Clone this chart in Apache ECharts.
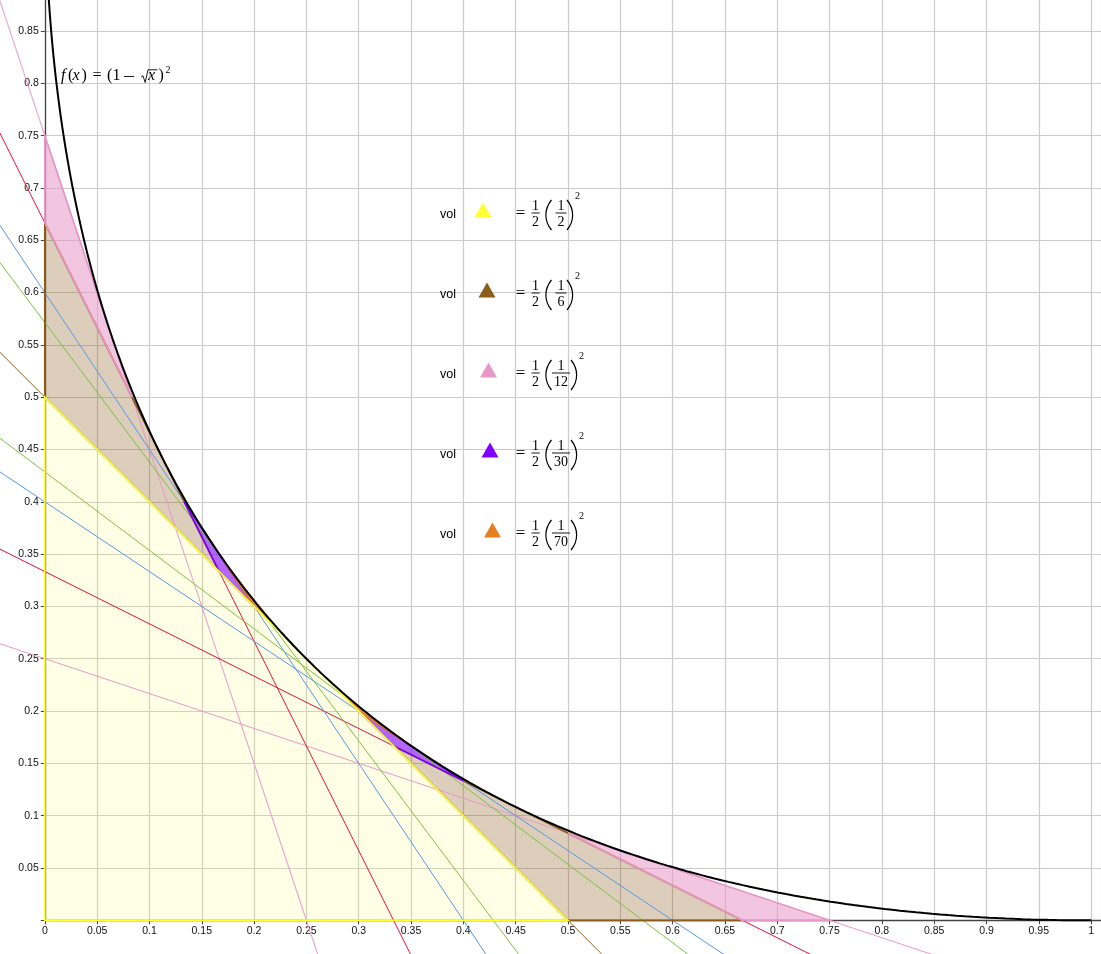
<!DOCTYPE html>
<html>
<head>
<meta charset="utf-8">
<script src="https://cdn.jsdelivr.net/npm/echarts@6/dist/echarts.min.js"></script>
<style>
  html, body { margin: 0; padding: 0; background: #fff; }
  #main { width: 1101px; height: 954px; }
</style>
</head>
<body>
<div id="main"></div>
<script>
// tangent lines to f(x) = (1 - sqrt(x))^2, given by their intercepts
const lineXInt = [1/4, 3/4, 1/3, 2/3, 2/5, 3/5, 3/7, 4/7, 1/2];
const lineYInt = [3/4, 1/4, 2/3, 1/3, 3/5, 2/5, 4/7, 3/7, 1/2];
const lineColors = ['#e898c8', '#e898c8', '#dc143c', '#dc143c', '#5599ee', '#5599ee',
                    '#7cc142', '#7cc142', '#8b5e1a'];

// shaded triangles (corners where the tangent lines meet)
const yellowPolys = [[[0, 0], [0, 1/2], [1/2, 0]]];
const brownPolys = [[[0, 1/2], [0, 2/3], [1/6, 1/3]], [[1/3, 1/6], [2/3, 0], [1/2, 0]]];
const pinkPolys = [[[0, 2/3], [0, 3/4], [1/12, 1/2]], [[1/2, 1/12], [3/4, 0], [2/3, 0]]];
const purplePolys = [[[2/15, 2/5], [1/5, 3/10], [1/6, 1/3]], [[3/10, 1/5], [2/5, 2/15], [1/3, 1/6]]];
const orangePolys = [[[6/35, 12/35], [3/14, 2/7], [1/5, 3/10]], [[2/7, 3/14], [12/35, 6/35], [3/10, 1/5]]];

// "vol" rows
const volDen = ['2', '6', '12', '30', '70'];
const volColors = ['#ffff33', '#8b5e1a', '#e898c8', '#7f00ff', '#e67e22'];

// the plotted function f(x) = (1 - sqrt(x))^2, sampled along s = sqrt(x)
const curvePts = [];
for (let i = 0; i <= 240; i++) {
  const s = i / 240;
  curvePts.push([s * s, (1 - s) * (1 - s)]);
}

var myChart = echarts.init(document.getElementById('main'));

function polySeries(polys, color, alpha, z, fillOn, strokeOn) {
  return {
    type: 'custom',
    coordinateSystem: 'cartesian2d',
    data: [[0, 0]],
    z: z,
    silent: true,
    clip: false,
    renderItem: function (params, api) {
      return {
        type: 'group',
        children: polys.map(function (p) {
          return {
            type: 'polygon',
            shape: { points: p.map(function (v) { return api.coord(v); }) },
            style: {
              fill: fillOn ? echarts.color.modifyAlpha(color, alpha) : 'none',
              stroke: strokeOn ? color : 'none',
              lineWidth: 1.7
            }
          };
        })
      };
    }
  };
}

var series = [];
var regions = [
  [yellowPolys, '#ffff33', 0.12],
  [brownPolys, '#8b5e1a', 0.3],
  [pinkPolys, '#e898c8', 0.55],
  [purplePolys, '#7f00ff', 0.6],
  [orangePolys, '#e67e22', 0.75]
];
regions.forEach(function (r) { series.push(polySeries(r[0], r[1], r[2], 2, true, false)); });

// tangent lines run past both axes to the page edges
series.push({
  type: 'custom',
  coordinateSystem: 'cartesian2d',
  data: lineXInt.map(function (a, i) { return [a, lineYInt[i]]; }),
  z: 3,
  silent: true,
  clip: false,
  renderItem: function (params, api) {
    const a = api.value(0), b = api.value(1);
    const p1 = api.coord([-0.06, b * (1 + 0.06 / a)]);
    const p2 = api.coord([a * (1 + 0.06 / b), -0.06]);
    return {
      type: 'line',
      shape: { x1: p1[0], y1: p1[1], x2: p2[0], y2: p2[1] },
      style: { stroke: lineColors[params.dataIndex], lineWidth: 1 }
    };
  }
});
// outlines: yellow last so its edge stays on top
[1, 2, 3, 4, 0].forEach(function (k) {
  const r = regions[k];
  series.push(polySeries(r[0], r[1], r[2], 4, false, true));
});

series.push({
  type: 'line',
  data: curvePts,
  showSymbol: false,
  symbol: 'none',
  silent: true,
  clip: false,
  z: 5,
  lineStyle: { color: '#000', width: 2 }
});

// text pieces of the formulas
var graphic = [];
function glyph(x, y, txt, size, italic, align) {
  graphic.push({
    type: 'text', x: x, y: y, z: 100,
    style: {
      text: txt,
      font: (italic ? 'italic ' : '') + size + 'px "Liberation Serif"',
      fill: '#000',
      textAlign: align || 'left',
      textVerticalAlign: 'middle'
    }
  });
}
function hline(x1, x2, y, w) {
  graphic.push({ type: 'line', z: 100, shape: { x1: x1, y1: y, x2: x2, y2: y },
    style: { stroke: '#000', lineWidth: w || 0.9 } });
}
function paren(x, y0, open) {
  var d = open ? -7.5 : 7.5;
  graphic.push({ type: 'bezierCurve', z: 100,
    shape: { x1: x, y1: y0 - 13, x2: x, y2: y0 + 17,
             cpx1: x + d, cpy1: y0 - 4, cpx2: x + d, cpy2: y0 + 8 },
    style: { stroke: '#000', lineWidth: 1.2, fill: 'none' } });
}

// f(x) label
glyph(61, 75.5, 'f', 16, true);
glyph(68, 75.5, '(', 16);
glyph(72.5, 75.5, 'x', 16, true);
glyph(81.5, 75.5, ')', 16);
glyph(92.5, 75.5, '=', 16);
glyph(107, 75.5, '(', 16);
glyph(112.5, 75.5, '1', 16);
hline(124, 134, 76.5, 0.9);
glyph(148, 75.5, 'x', 16, true);
glyph(158.5, 75.5, ')', 16);
glyph(165.5, 70, '2', 10);
graphic.push({ type: 'polyline', z: 100,
  shape: { points: [[141.2, 77], [143, 75.8], [145.2, 82.5], [148, 69.8], [157.5, 69.8]] },
  style: { stroke: '#000', lineWidth: 0.9, fill: 'none' } });

// vol rows
const triX = [483, 487, 488.5, 490, 492.5];
for (let i = 0; i < volDen.length; i++) {
  const y0 = 213 + 80 * i;
  const wide = volDen[i].length > 1;
  graphic.push({
    type: 'text', x: 448, y: y0 + 1.5, z: 100,
    style: { text: 'vol', font: '12.5px "Liberation Sans"', fill: '#000',
             textAlign: 'center', textVerticalAlign: 'middle' }
  });
  const cx = triX[i], cy = y0 - 3;
  graphic.push({
    type: 'polygon', z: 100,
    shape: { points: [[cx - 8.5, cy + 7.5], [cx + 8.5, cy + 7.5], [cx, cy - 7.5]] },
    style: { fill: volColors[i] }
  });
  glyph(520.5, y0 + 0.5, '=', 17, false, 'center');
  glyph(535.5, y0 - 6.5, '1', 14, false, 'center');
  hline(531.5, 539.8, y0);
  glyph(535.5, y0 + 9, '2', 14, false, 'center');
  paren(551.5, y0, true);
  const half = wide ? 9 : 5.5;
  glyph(561, y0 - 6.5, '1', 14, false, 'center');
  hline(561 - half, 561 + half, y0);
  glyph(561, y0 + 9, volDen[i], 14, false, 'center');
  const cp = wide ? 571 : 567;
  paren(cp, y0, false);
  glyph(cp + 10.5, y0 - 16.5, '2', 10, false, 'center');
}

function onStep(v) {
  return Math.abs(v / 0.05 - Math.round(v / 0.05)) < 1e-6;
}
function fmtX(v) {
  v = Number(v);
  if (!onStep(v) || v > 1 + 1e-6) return '';
  return String(Math.round(v * 100) / 100);
}
function fmtY(v) {
  v = Number(v);
  if (!onStep(v) || v < 1e-6) return '';
  return String(Math.round(v * 100) / 100);
}

var option = {
  animation: false,
  backgroundColor: '#fff',
  grid: {
    left: 44.8, right: -0.6, top: -0.4, bottom: 33.7,
    containLabel: false,
    outerBoundsMode: 'none'
  },
  xAxis: {
    type: 'value',
    min: 0, max: 1.01, interval: 0.05,
    axisLine: { lineStyle: { color: '#444', width: 1.3 } },
    axisTick: { length: 4, lineStyle: { color: '#444' } },
    axisLabel: {
      margin: 5, fontSize: 10.5, fontFamily: 'Liberation Sans', color: '#111',
      formatter: fmtX
    },
    splitLine: { show: true, lineStyle: { color: '#cbcbcb', width: 1.2 } }
  },
  yAxis: {
    type: 'value',
    min: 0, max: 0.88, interval: 0.05,
    axisLine: { lineStyle: { color: '#444', width: 1.3 } },
    axisTick: { length: 4, lineStyle: { color: '#444' } },
    axisLabel: {
      margin: 6, fontSize: 10.5, fontFamily: 'Liberation Sans', color: '#111',
      formatter: fmtY
    },
    splitLine: { show: true, lineStyle: { color: '#cbcbcb', width: 1.2 } }
  },
  graphic: graphic,
  series: series
};

myChart.setOption(option);
</script>
</body>
</html>
